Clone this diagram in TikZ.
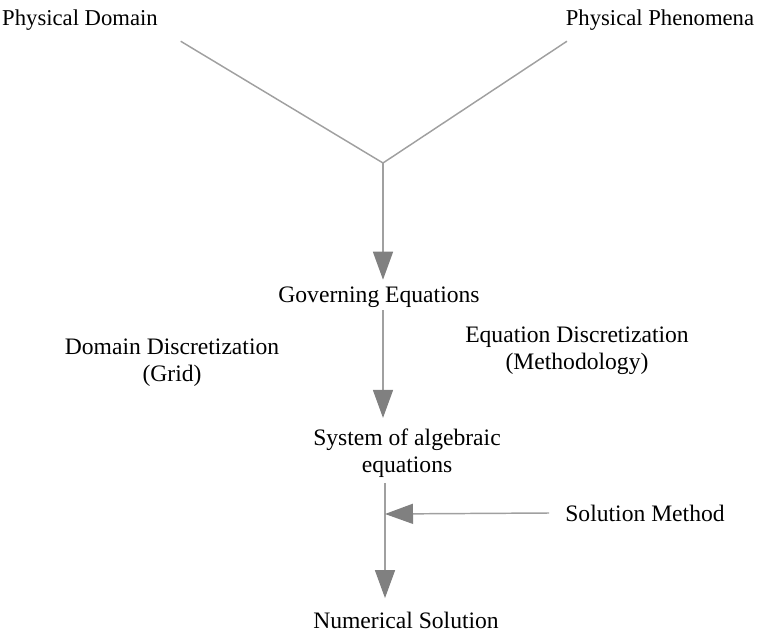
\documentclass[tikz,border=0pt]{standalone}
\usepackage{fontspec}
\setmainfont{Liberation Serif}
\usetikzlibrary{
    arrows.meta,
    positioning,
    calc
}
\definecolor{linegray}{RGB}{160,160,160}
\definecolor{tipgray}{RGB}{128,128,128}
\tikzstyle{label} = [
    align=center,
    inner sep=2pt,
    font=\fontsize{17.7}{20}\selectfont
]
\tikzstyle{source} = [
    label,
    font=\fontsize{17}{20}\selectfont
]
\tikzstyle{link} = [
    draw=linegray,
    line width=1.1pt
]
\tikzstyle{flow} = [
    link,
    -{Triangle[length=21pt,width=15pt,color=tipgray]}
]

\begin{document}
\begin{tikzpicture}[x=0.75pt, y=-0.75pt]
        \useasboundingbox (0,0) rectangle (768,635);

        % Inputs
        \node[source] (domain) at (80, 20) {Physical Domain};
        \node[source] (phen) at (660, 20) {Physical Phenomena};

        % Equations
        \node[label] (gov) at (379, 297) {Governing Equations};

        % Discretization
        \node[label] (grid) at (172, 363) {Domain Discretization\\(Grid)};
        \node[label] (method) at (577, 351) {Equation Discretization\\(Methodology)};

        % Algebraic system
        \node[label] (sys) at (407, 453) {System of algebraic\\equations};

        % Solver
        \node[label] (solver) at (645, 513) {Solution Method};

        % Result
        \node[label] (num) at (406, 620) {Numerical Solution};

        % Junctions
        \coordinate (merge) at (383, 163);
        \coordinate (feed) at (385, 514);

        % Lines
        \draw[link] ([xshift=15pt, yshift=-6pt]domain.south east) -- (merge);
        \draw[link] ([xshift=3pt, yshift=-6pt]phen.south west) -- (merge);
        \draw[flow] (merge) -- ([yshift=3pt]gov.north -| merge);
        \draw[flow] (gov.south -| merge) -- ([yshift=6pt]sys.north -| merge);
        \draw[flow] ([yshift=-2pt]sys.south -| feed) -- ([yshift=8pt]num.north -| feed);
        \draw[flow] ([xshift=-10pt]solver.west) -- (feed);
    \end{tikzpicture}
\end{document}
